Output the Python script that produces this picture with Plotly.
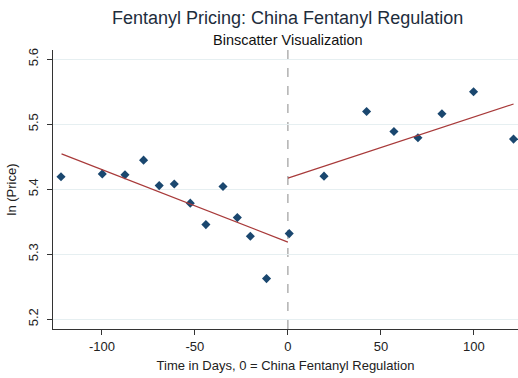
import plotly.graph_objects as go

# Binned means of log price by days relative to the regulation date
bin_days = [-122, -99.8, -87.6, -77.6, -69.2, -61.1, -52.5, -44.1, -34.9, -27.2, -20.2, -11.5, 0.7,
            19.4, 42.3, 57.0, 69.9, 82.8, 99.8, 121.3]
bin_lnprice = [5.419, 5.4235, 5.422, 5.4446, 5.4055, 5.408, 5.3785, 5.3455, 5.404, 5.3563, 5.3277, 5.2625, 5.3317,
               5.420, 5.5194, 5.4886, 5.479, 5.516, 5.5497, 5.477]

# Linear fits on each side of the cutoff (day, fitted ln price)
fit_pre_days = [-121.7, 0]
fit_pre_vals = [5.4543, 5.3185]
fit_post_days = [0, 121.3]
fit_post_vals = [5.417, 5.531]

x_ticks = [-100, -50, 0, 50, 100]
y_ticks = [5.2, 5.3, 5.4, 5.5, 5.6]

navy = "#1a476f"
maroon = "#a83a3a"
font_family = "Liberation Sans, Arial, sans-serif"

fig = go.Figure()

fig.add_trace(go.Scatter(
    x=bin_days, y=bin_lnprice, mode="markers",
    marker=dict(symbol="diamond", size=7, color=navy),
    showlegend=False,
))
fig.add_trace(go.Scatter(
    x=fit_pre_days, y=fit_pre_vals, mode="lines",
    line=dict(color=maroon, width=1.2), showlegend=False,
))
fig.add_trace(go.Scatter(
    x=fit_post_days, y=fit_post_vals, mode="lines",
    line=dict(color=maroon, width=1.2), showlegend=False,
))

# Cutoff marker at day 0
fig.add_shape(type="line", x0=0, x1=0, y0=0, y1=1, xref="x", yref="paper",
              line=dict(color="#8a8a8a", width=1, dash="dash"), layer="below")

# Title and subtitle
fig.add_annotation(text="Fentanyl Pricing: China Fentanyl Regulation",
                   xref="x", yref="paper", x=0, y=1.115, xanchor="center", yanchor="middle",
                   showarrow=False, font=dict(size=18, color="#1e2d3c", family=font_family))
fig.add_annotation(text="Binscatter Visualization",
                   xref="x", yref="paper", x=0, y=1.036, xanchor="center", yanchor="middle",
                   showarrow=False, font=dict(size=14.5, color="#111111", family=font_family))

fig.update_layout(
    width=518, height=378,
    margin=dict(l=53, r=0, t=50, b=49),
    paper_bgcolor="white", plot_bgcolor="white",
    font=dict(family=font_family, size=13, color="#222222"),
    xaxis=dict(
        range=[-126.3, 123.7], tickvals=x_ticks, ticktext=[str(v) for v in x_ticks],
        showgrid=False, zeroline=False,
        showline=True, linecolor="#333333", linewidth=1,
        ticks="outside", ticklen=5, tickcolor="#333333",
        title=dict(text="Time in Days, 0 = China Fentanyl Regulation", standoff=8,
                   font=dict(size=13)),
    ),
    yaxis=dict(
        range=[5.185, 5.614], tickvals=y_ticks, ticktext=[f"{v:.1f}" for v in y_ticks],
        tickangle=-90, ticklabelstandoff=4,
        showgrid=True, gridcolor="#e6eff1", gridwidth=1, zeroline=False,
        showline=True, linecolor="#333333", linewidth=1,
        ticks="outside", ticklen=5, tickcolor="#333333",
        title=dict(text="ln (Price)", standoff=6, font=dict(size=13)),
    ),
)

fig.write_html("out.html")
